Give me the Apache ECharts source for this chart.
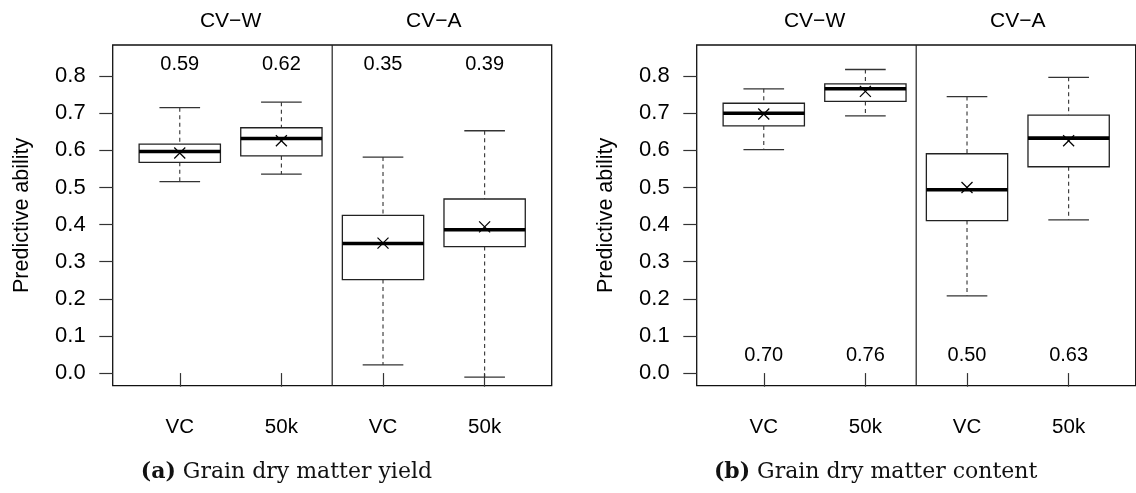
<!DOCTYPE html>
<html>
<head>
<meta charset="utf-8">
<script src="https://cdn.jsdelivr.net/npm/echarts@6/dist/echarts.min.js"></script>
<style>
html,body{margin:0;padding:0;background:#fff;}
#chart{width:1136px;height:493px;}
</style>
</head>
<body>
<div id="chart"></div>
<script>
// ---------- data ----------
const categories = ['VC', '50k', 'VC', '50k'];
const categoryPositions = [1, 2, 3, 4];
const facetTitles = ['CV\u2212W', 'CV\u2212A'];
const facetPositions = [1.5, 3.5];
const dividerPosition = [2.5];
const yTicks = [0, 0.1, 0.2, 0.3, 0.4, 0.5, 0.6, 0.7, 0.8];
const yAxisTitle = 'Predictive ability';

// (a) Grain dry matter yield
const yieldLowerWhisker = [0.516, 0.536, 0.022, -0.011];
const yieldQ1           = [0.568, 0.585, 0.252, 0.341];
const yieldMedian       = [0.597, 0.632, 0.349, 0.386];
const yieldQ3           = [0.617, 0.661, 0.425, 0.469];
const yieldUpperWhisker = [0.715, 0.730, 0.582, 0.653];
const yieldMean         = [0.593, 0.626, 0.350, 0.394];
const yieldLabels       = ['0.59', '0.62', '0.35', '0.39'];

// (b) Grain dry matter content
const contentLowerWhisker = [0.602, 0.693, 0.208, 0.413];
const contentQ1           = [0.666, 0.732, 0.411, 0.556];
const contentMedian       = [0.700, 0.766, 0.494, 0.633];
const contentQ3           = [0.727, 0.779, 0.591, 0.695];
const contentUpperWhisker = [0.766, 0.818, 0.745, 0.797];
const contentMean         = [0.698, 0.759, 0.500, 0.626];
const contentLabels       = ['0.70', '0.76', '0.50', '0.63'];

const captions = [
  {tag: '(a)', text: 'Grain dry matter yield'},
  {tag: '(b)', text: 'Grain dry matter content'}
];

// ---------- layout / style ----------
const SANS = 'Liberation Sans, Arial, Helvetica, sans-serif';
const SERIF = 'DejaVu Serif, serif';
const Y_MIN = -0.034, Y_MAX = 0.884;
const X_MIN = 0.34, X_MAX = 4.66;

const panels = [
  {left: 112.7, low: yieldLowerWhisker, q1: yieldQ1, med: yieldMedian, q3: yieldQ3, high: yieldUpperWhisker, mean: yieldMean, labels: yieldLabels, labelY: 0.831, captionX: 286.4},
  {left: 696.7, low: contentLowerWhisker, q1: contentQ1, med: contentMedian, q3: contentQ3, high: contentUpperWhisker, mean: contentMean, labels: contentLabels, labelY: 0.047, captionX: 875.6}
];

function renderBox(params, api) {
  const x = api.value(0);
  const pLow = api.coord([x, api.value(1)]);
  const pQ1 = api.coord([x, api.value(2)]);
  const pMed = api.coord([x, api.value(3)]);
  const pQ3 = api.coord([x, api.value(4)]);
  const pHigh = api.coord([x, api.value(5)]);
  const pMean = api.coord([x, api.value(6)]);
  const hb = api.size([0.8, 0])[0] / 2;
  const hc = api.size([0.4, 0])[0] / 2;
  const cx = pMed[0];
  const boxStroke = '#222';
  const wStroke = '#333';
  const m = 5.5;
  return {
    type: 'group',
    children: [
      {type: 'line', shape: {x1: cx, y1: pHigh[1], x2: cx, y2: pQ3[1]}, style: {stroke: wStroke, lineWidth: 1.1, lineDash: [4, 3.5]}},
      {type: 'line', shape: {x1: cx, y1: pQ1[1], x2: cx, y2: pLow[1]}, style: {stroke: wStroke, lineWidth: 1.1, lineDash: [4, 3.5]}},
      {type: 'line', shape: {x1: cx - hc, y1: pHigh[1], x2: cx + hc, y2: pHigh[1]}, style: {stroke: wStroke, lineWidth: 1.3}},
      {type: 'line', shape: {x1: cx - hc, y1: pLow[1], x2: cx + hc, y2: pLow[1]}, style: {stroke: wStroke, lineWidth: 1.3}},
      {type: 'rect', shape: {x: cx - hb, y: pQ3[1], width: 2 * hb, height: pQ1[1] - pQ3[1]}, style: {fill: '#fff', stroke: boxStroke, lineWidth: 1.3}},
      {type: 'line', shape: {x1: cx - hb, y1: pMed[1], x2: cx + hb, y2: pMed[1]}, style: {stroke: '#000', lineWidth: 3.6}},
      {type: 'line', shape: {x1: pMean[0] - m, y1: pMean[1] - m, x2: pMean[0] + m, y2: pMean[1] + m}, style: {stroke: '#000', lineWidth: 1.2}},
      {type: 'line', shape: {x1: pMean[0] - m, y1: pMean[1] + m, x2: pMean[0] + m, y2: pMean[1] - m}, style: {stroke: '#000', lineWidth: 1.2}}
    ]
  };
}

function renderDivider(params, api) {
  const p = api.coord([api.value(0), 0]);
  const cs = params.coordSys;
  return {type: 'line', shape: {x1: p[0], y1: cs.y, x2: p[0], y2: cs.y + cs.height}, style: {stroke: '#222', lineWidth: 1.2}};
}

function makeTextRenderer(texts, yValue, offsetY, fontSize) {
  return function (params, api) {
    const p = api.coord([api.value(0), yValue]);
    return {type: 'text', x: p[0], y: p[1] + offsetY,
      style: {text: texts[params.dataIndex], fontFamily: SANS, fontSize: fontSize, fill: '#000', align: 'center', verticalAlign: 'middle'}};
  };
}

const grid = [], xAxis = [], yAxis = [], series = [];
panels.forEach((pn, k) => {
  grid.push({left: pn.left, top: 45, width: 439, height: 340.7, show: true, borderColor: '#111', borderWidth: 1.3, backgroundColor: 'transparent', containLabel: false});
  xAxis.push({
    type: 'value', gridIndex: k, min: X_MIN, max: X_MAX,
    splitLine: {show: false}, axisLine: {show: false},
    axisTick: {show: true, customValues: categoryPositions, length: 13.6, lineStyle: {color: '#333', width: 1.2}},
    axisLabel: {show: true, customValues: categoryPositions, margin: 31, fontFamily: SANS, fontSize: 20.5, color: '#000',
      formatter: v => categories[Math.round(v) - 1] || ''}
  });
  yAxis.push({
    type: 'value', gridIndex: k, min: Y_MIN, max: Y_MAX,
    splitLine: {show: false}, axisLine: {show: false},
    axisTick: {show: true, customValues: yTicks, length: 13.4, lineStyle: {color: '#333', width: 1.2}},
    axisLabel: {show: true, customValues: yTicks, margin: 27, fontFamily: SANS, fontSize: 22, color: '#000',
      formatter: v => v.toFixed(1)},
    name: yAxisTitle, nameLocation: 'middle', nameRotate: 90, nameGap: 80,
    nameTextStyle: {fontFamily: SANS, fontSize: 21.5, color: '#000'}
  });
  const boxData = categoryPositions.map((x, i) => [x, pn.low[i], pn.q1[i], pn.med[i], pn.q3[i], pn.high[i], pn.mean[i]]);
  series.push({type: 'custom', xAxisIndex: k, yAxisIndex: k, renderItem: renderDivider, data: dividerPosition.map(v => [v]), silent: true, z: 3});
  series.push({type: 'custom', xAxisIndex: k, yAxisIndex: k, renderItem: renderBox, data: boxData, silent: true, z: 2, clip: false});
  series.push({type: 'custom', xAxisIndex: k, yAxisIndex: k, renderItem: makeTextRenderer(pn.labels, pn.labelY, 0, 20),
    data: categoryPositions.map(x => [x]), silent: true, z: 4, clip: false});
  series.push({type: 'custom', xAxisIndex: k, yAxisIndex: k, renderItem: makeTextRenderer(facetTitles, Y_MAX, -24, 21),
    data: facetPositions.map(x => [x]), silent: true, z: 4, clip: false});
});

const graphic = captions.map((c, k) => ({
  type: 'text', x: panels[k].captionX, y: 472,
  style: {text: '{b|' + c.tag + '} ' + c.text, fontFamily: SERIF, fontSize: 22, fill: '#111', align: 'center', verticalAlign: 'middle',
    rich: {b: {fontFamily: SERIF, fontSize: 22, fontWeight: 'bold', fill: '#111'}}}
}));

const chart = echarts.init(document.getElementById('chart'), null, {renderer: 'canvas'});
chart.setOption({animation: false, backgroundColor: '#fff', grid, xAxis, yAxis, series, graphic});
</script>
</body>
</html>
